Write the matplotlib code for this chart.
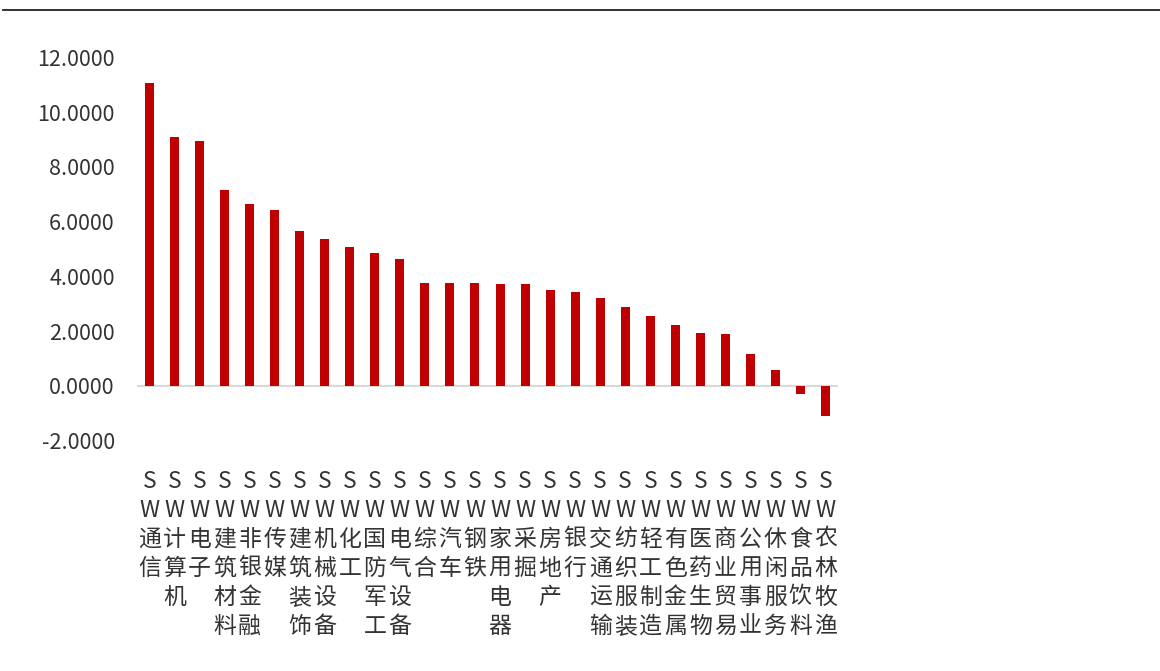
import matplotlib
matplotlib.use("Agg")
import matplotlib.pyplot as plt
from matplotlib.lines import Line2D

plt.rcParams['font.family'] = ['Noto Sans CJK SC', 'DejaVu Sans']
plt.rcParams['axes.unicode_minus'] = False

# SW industry categories and values
industries = ['通信', '计算机', '电子', '建筑材料', '非银金融', '传媒', '建筑装饰',
              '机械设备', '化工', '国防军工', '电气设备', '综合', '汽车', '钢铁',
              '家用电器', '采掘', '房地产', '银行', '交通运输', '纺织服装',
              '轻工制造', '有色金属', '医药生物', '商业贸易', '公用事业',
              '休闲服务', '食品饮料', '农林牧渔']
values = [11.07, 9.10, 8.96, 7.17, 6.66, 6.42, 5.67, 5.38, 5.06, 4.87, 4.64,
          3.75, 3.75, 3.75, 3.73, 3.73, 3.50, 3.45, 3.20, 2.89, 2.56, 2.23,
          1.95, 1.90, 1.16, 0.59, -0.29, -1.08]
yticks = [-2, 0, 2, 4, 6, 8, 10, 12]

labels = ['\n'.join('SW' + name) for name in industries]

fig = plt.figure(figsize=(11.6, 6.71), dpi=100)
ax = fig.add_axes([137 / 1160, 1 - 440.7 / 671, 701 / 1160, (440.7 - 57.5) / 671])

x = range(len(values))
ax.bar(x, values, width=0.36, color='#C00000', zorder=2)
ax.axhline(0, color='#d9d9d9', lw=1.5, zorder=1)

ax.set_xlim(-0.5, len(values) - 0.5)
ax.set_ylim(-2, 12)
ax.set_yticks(yticks)
ax.set_yticklabels([f'{v:.4f}' for v in yticks], fontsize=15.5, color='#333333')
ax.set_xticks(list(x))
ax.set_xticklabels(labels, fontsize=16.5, color='#333333', linespacing=1.33,
                   va='top')
ax.tick_params(axis='y', length=0, pad=16)
ax.tick_params(axis='x', length=0, pad=21)
for s in ax.spines.values():
    s.set_visible(False)

# thin black rule across the top
fig.add_artist(Line2D([3 / 1160, 1], [1 - 10 / 671] * 2, color='#222222', lw=1.3,
                      transform=fig.transFigure))

fig.savefig('out.png', dpi=100)
